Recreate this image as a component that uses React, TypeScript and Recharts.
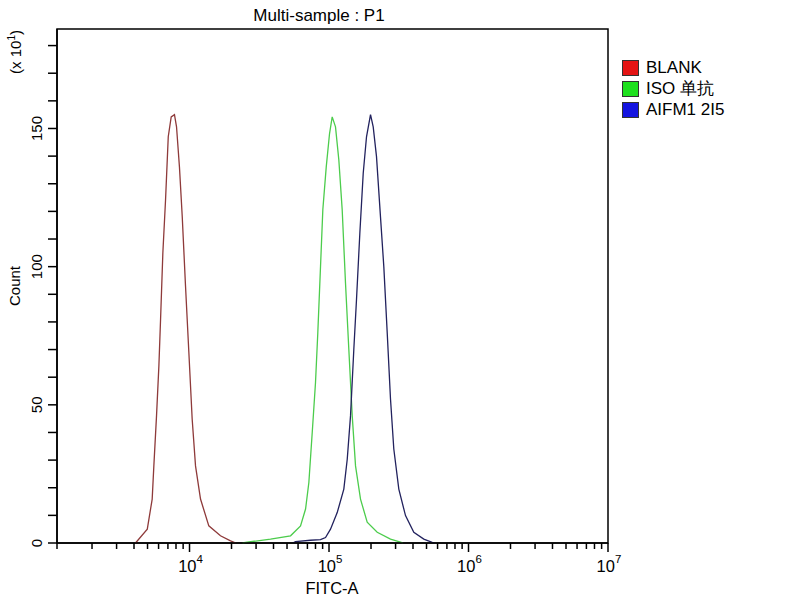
import { LineChart, Line, XAxis, YAxis, Legend, ReferenceArea } from 'recharts';

// FITC-A channel value / count (x10^1)
const blankX = [4100, 4980, 5400, 5550, 5800, 6030, 6200, 6440, 6730, 7040, 7390, 7800, 8070, 8470, 8870, 9360, 9890, 10450, 11040, 11990, 13750, 16670, 19680, 21500];
const blankY = [0, 5, 15.9, 27.9, 46, 64, 80.9, 105, 124, 147, 154.2, 155, 150.6, 136, 118, 93, 69, 44.8, 27.9, 15.9, 6.2, 2.6, 0.8, 0];

const isoX = [24000, 25900, 38100, 53000, 62500, 67900, 71700, 75800, 80000, 83100, 86900, 90300, 95500, 100800, 105400, 111300, 117600, 124300, 131300, 138700, 146700, 154900, 168200, 187800, 221600, 276000, 325400, 340000];
const isoY = [0, 0.3, 1.4, 2.6, 6.2, 12.3, 21.9, 40, 58, 76, 100, 120.6, 136, 148, 154.2, 150.6, 138.6, 120.6, 94, 70, 46, 27.9, 15.9, 7.5, 3.9, 1.4, 0.3, 0];

const aifmX = [55000, 57500, 73700, 86900, 94400, 102500, 114500, 127700, 135100, 142600, 150600, 157400, 166300, 175900, 185700, 198400, 207400, 219000, 233900, 247100, 261400, 276000, 291400, 316500, 353500, 405400, 478200, 549300, 570000];
const aifmY = [0, 0.5, 1, 1.2, 2, 5, 11, 19.5, 30.3, 46, 70, 88, 112, 133.8, 147, 155, 150.6, 139.8, 118, 100, 76, 52, 34, 19.5, 9.9, 3.9, 1.4, 0.2, 0];

const seriesNames = ['BLANK', 'ISO 单抗', 'AIFM1 2I5'];
const lineColors = ['#8e3a3a', '#4ccc4c', '#22225e'];
const swatchColors = ['#e41414', '#1ee01e', '#1414e0'];

const XMIN = 1122;
const XMAX = 1e7;
const YMAX = 186;
const majorX = [1e4, 1e5, 1e6, 1e7];
const xTicks = [XMIN, 2e3, 3e3, 4e3, 5e3, 6e3, 7e3, 8e3, 9e3, 1e4, 2e4, 3e4, 4e4, 5e4, 6e4, 7e4, 8e4, 9e4, 1e5, 2e5, 3e5, 4e5, 5e5, 6e5, 7e5, 8e5, 9e5, 1e6, 2e6, 3e6, 4e6, 5e6, 6e6, 7e6, 8e6, 9e6, 1e7];
const yTicks = [0, 10, 20, 30, 40, 50, 60, 70, 80, 90, 100, 110, 120, 130, 140, 150, 160, 170, 180];
const yLabels = [0, 50, 100, 150];

const FONT = '"Liberation Sans", Arial, sans-serif';

const toRows = (xs: number[], ys: number[]) => xs.map((x, i) => ({ x, y: ys[i] }));

function XTick(props: any) {
  const { x, y, payload } = props;
  const major = majorX.includes(payload.value);
  const exp = Math.round(Math.log10(payload.value));
  return (
    <g>
      <line x1={x} y1={y} x2={x} y2={y + (major ? 9 : 6)} stroke="#000" strokeWidth={1.5} />
      {major && (
        <text x={x + 1} y={y + 29} textAnchor="middle" fontSize={16.5} fontFamily={FONT} fill="#000">
          10<tspan dy={-9} fontSize={11.5}>{exp}</tspan>
        </text>
      )}
    </g>
  );
}

function YTick(props: any) {
  const { x, y, payload } = props;
  const labelled = yLabels.includes(payload.value);
  return (
    <g>
      <line x1={x - 9} y1={y} x2={x} y2={y} stroke="#000" strokeWidth={1.5} />
      {labelled && (
        <text x={x - 15} y={y} transform={`rotate(-90 ${x - 15} ${y})`} textAnchor="middle" fontSize={15} fontFamily={FONT} fill="#000">
          {payload.value}
        </text>
      )}
    </g>
  );
}

function LegendBox() {
  return (
    <div style={{ fontFamily: FONT, fontSize: 17, color: '#000' }}>
      {seriesNames.map((n, i) => (
        <div key={n} style={{ display: 'flex', alignItems: 'center', height: 21 }}>
          <span style={{ width: 15, height: 14, background: swatchColors[i], border: '1px solid #333', marginRight: 7 }} />
          <span>{n}</span>
        </div>
      ))}
    </div>
  );
}

export default function App() {
  const series = [toRows(blankX, blankY), toRows(isoX, isoY), toRows(aifmX, aifmY)];
  return (
    <div style={{ position: 'absolute', left: 0, top: 0, width: 800, height: 600, background: '#fff' }}>
      <LineChart width={800} height={600} margin={{ top: 29, right: 192, bottom: 0, left: 0 }}>
        <XAxis
          dataKey="x"
          type="number"
          scale="log"
          domain={[XMIN, XMAX]}
          ticks={xTicks}
          allowDataOverflow
          interval={0}
          height={57}
          tickSize={0}
          tickMargin={0}
          tickLine={false}
          tick={<XTick />}
          axisLine={{ stroke: '#000', strokeWidth: 1.5 }}
        />
        <YAxis
          type="number"
          domain={[0, YMAX]}
          ticks={yTicks}
          interval={0}
          width={57}
          tickSize={0}
          tickMargin={0}
          tickLine={false}
          tick={<YTick />}
          axisLine={{ stroke: '#000', strokeWidth: 1.5 }}
        />
        <ReferenceArea x1={XMIN} x2={XMAX} y1={0} y2={YMAX} fill="none" fillOpacity={0} stroke="#000" strokeWidth={1.5} />
        {series.map((rows, i) => (
          <Line
            key={seriesNames[i]}
            data={rows}
            dataKey="y"
            name={seriesNames[i]}
            type="linear"
            stroke={lineColors[i]}
            strokeWidth={1.3}
            dot={false}
            isAnimationActive={false}
          />
        ))}
        <Legend layout="vertical" verticalAlign="middle" align="center" content={<LegendBox />} wrapperStyle={{ left: 622, top: 57, width: 170 }} />
        <text x={319} y={21} textAnchor="middle" fontSize={17} fontFamily={FONT} fill="#000">Multi-sample : P1</text>
        <text x={332} y={594} textAnchor="middle" fontSize={16.5} fontFamily={FONT} fill="#000">FITC-A</text>
        <text x={20} y={286} transform="rotate(-90 20 286)" textAnchor="middle" fontSize={15} fontFamily={FONT} fill="#000">Count</text>
        <text x={21} y={52} transform="rotate(-90 21 52)" textAnchor="middle" fontSize={15} fontFamily={FONT} fill="#000">
          (x 10<tspan dy={-6} fontSize={10}>1</tspan><tspan dy={6}>)</tspan>
        </text>
      </LineChart>
    </div>
  );
}
